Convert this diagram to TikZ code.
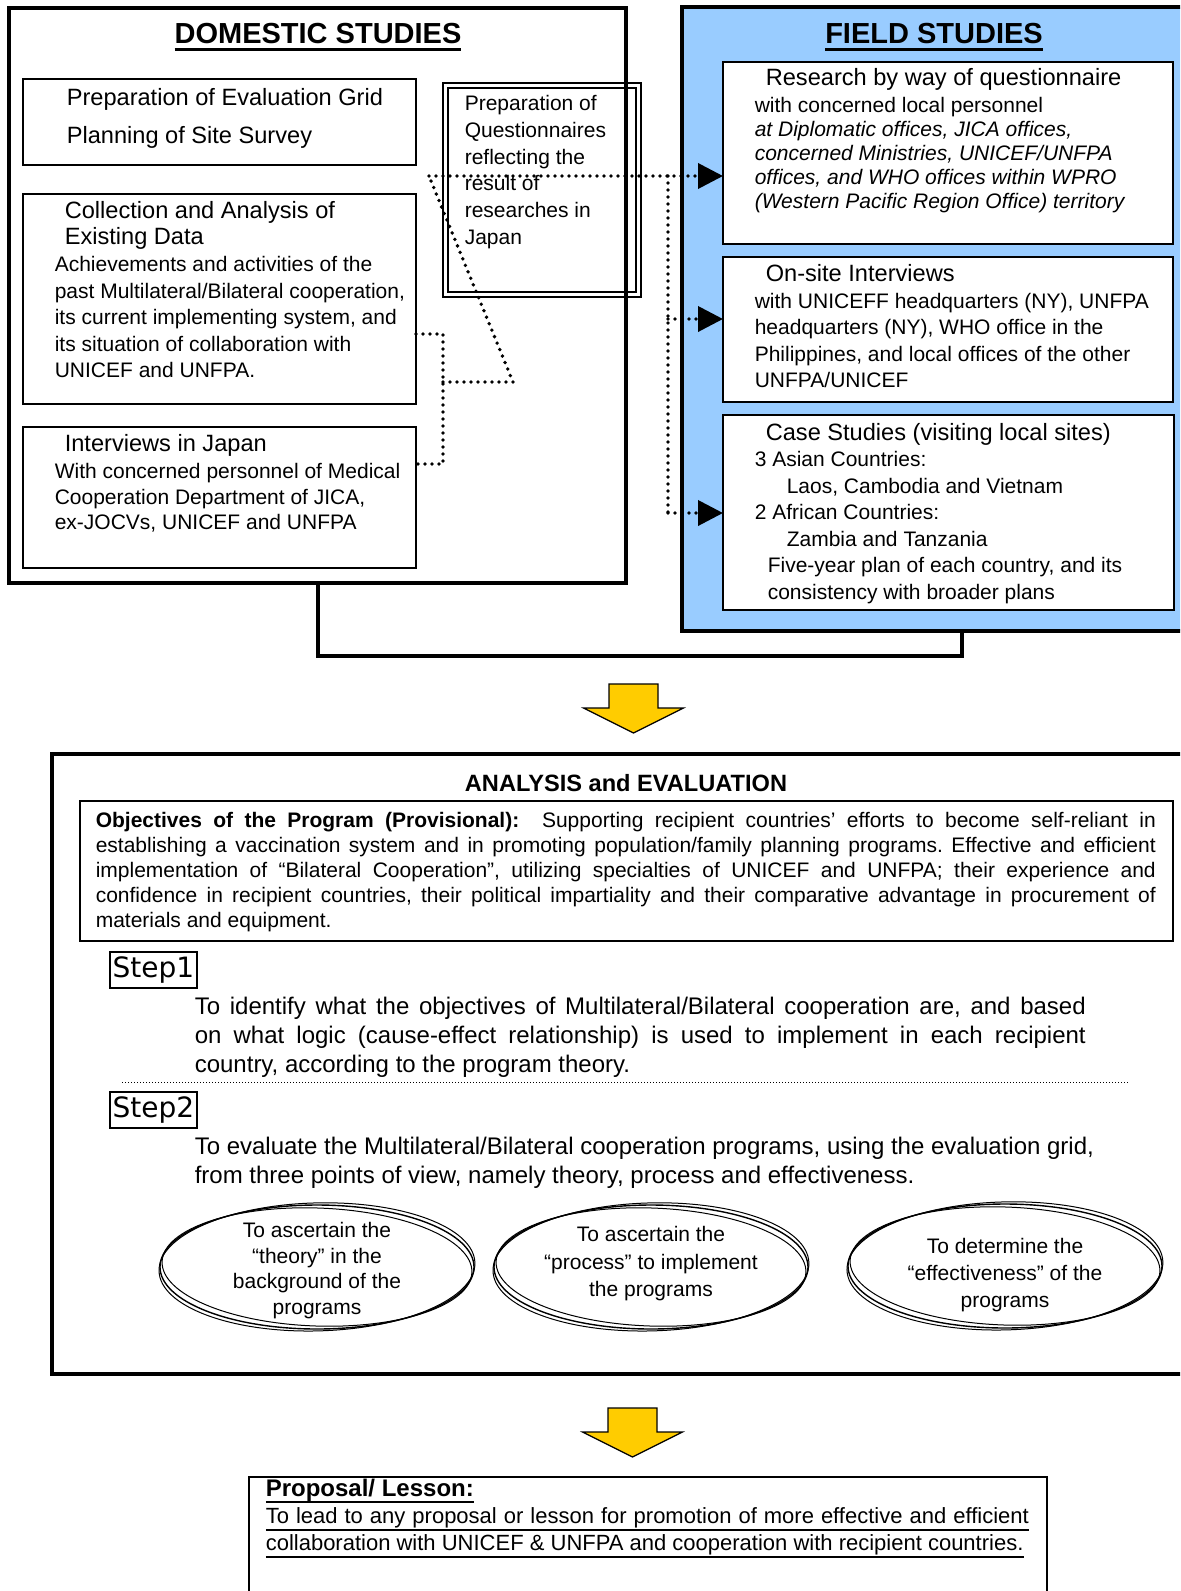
\documentclass[tikz,border=0pt]{standalone}
\usepackage{fontspec}
\setmainfont{Liberation Sans}
\newfontfamily\stepfont{DejaVu Sans}
\usetikzlibrary{arrows.meta,shapes.geometric}
\definecolor{c0}{RGB}{153,204,255}
\definecolor{c1}{RGB}{255,204,0}
\frenchspacing
\newsavebox\ulbox
\NewDocumentCommand\fs{mm}{\fontsize{#1}{#2}\selectfont}
\NewDocumentCommand\uln{mmm}{%
  \sbox\ulbox{#3}\rlap{\rule[-#2]{\wd\ulbox}{#1}}\usebox\ulbox}
\tikzset{%
  outerbox/.style={draw,line width=1.8pt,inner sep=0pt,outer sep=0pt},
  innerbox/.style 2 args={draw,fill=white,line width=0.9pt,inner sep=0pt,outer sep=0pt,
    minimum width=#1,minimum height=#2},
  txt/.style={inner sep=0pt,anchor=base west,align=left},
  headtxt/.style={inner sep=0pt,anchor=base,font={\bfseries\fs{14.5}{17}}},
  dotline/.style={line width=1.9pt,dash pattern=on 0pt off 3.5pt,line cap=round},
  arr/.style={-{Triangle[length=12.5pt,width=12.5pt]}},
  fineline/.style={line width=0.5pt,dash pattern=on 0.5pt off 1pt},
  ovalring/.style={ellipse,draw,line width=0.7pt,inner sep=0pt,
    minimum width=157pt,minimum height=62pt},
  ovaltxt/.style={inner sep=0pt,anchor=base,align=center},
  stepbox/.style={draw,line width=0.9pt,inner sep=0pt,
    minimum width=43.5pt,minimum height=18pt,font={\stepfont\fs{14}{16}}}
}
\NewDocumentCommand\yarrow{m}{%
  \filldraw[fill=c1,draw=black,line width=0.6pt]
  (#1) ++(-24.5,0) -- ++(49,0) -- ++(0,24) -- ++(25.5,0)
  -- ++(-50,25) -- ++(-50,-25) -- ++(25.5,0) -- cycle;
}
\NewDocumentCommand\ellring{m}{%
  \draw[line width=0.5pt,rotate around={-2:(#1)}] (#1) ellipse [x radius=155, y radius=59];
  \draw[line width=0.5pt,rotate around={1.5:(#1)}] (#1) ellipse [x radius=158, y radius=64];
}
\begin{document}
\begin{tikzpicture}[x=0.5pt,y=-0.5pt,thick]
  \clip (0,0) rectangle (1180,1591);
  \fill[white] (0,0) rectangle (1180,1591);
  %% field studies
  \node[outerbox,fill=c0,minimum width=259pt,minimum height=312pt] (f0) at (941,319) {};
  \node[innerbox={225pt}{91pt}] (f1) at (948,153) {};
  \node[innerbox={225pt}{72.5pt}] (f2) at (948,329.5) {};
  \node[innerbox={225.5pt}{97.5pt}] (f3) at (948.5,512.5) {};
  \node[headtxt] (f4) at (934,43) {\uln{1.5pt}{3.75pt}{FIELD STUDIES}};
  \node[txt,font=\fs{11.8}{13}] (f5) at (765,85.5) {Research by way of questionnaire};
  \node[txt,font=\fs{10.5}{12}] (f6) at (754,208.5) {with concerned local personnel\\
    \textit{at Diplomatic offices, JICA offices,}\\
    \textit{concerned Ministries, UNICEF/UNFPA}\\
    \textit{offices, and WHO offices within WPRO}\\
    \textit{(Western Pacific Region Office) territory}};
  \node[txt,font=\fs{11.8}{13}] (f7) at (765,281.5) {On-site Interviews};
  \node[txt,font=\fs{10.5}{13.15}] (f8) at (754,387.4) {with UNICEFF headquarters (NY), UNFPA\\
    headquarters (NY), WHO office in the\\
    Philippines, and local offices of the other\\
    UNFPA/UNICEF};
  \node[txt,font=\fs{11.8}{13}] (f9) at (765,440.5) {Case Studies (visiting local sites)};
  \node[txt,font=\fs{10.5}{13.3}] (f10) at (754,599.5) {3 Asian Countries:\\
    \hspace*{16pt}Laos, Cambodia and Vietnam\\
    2 African Countries:\\
    \hspace*{16pt}Zambia and Tanzania\\
    \hspace*{6.5pt}Five-year plan of each country, and its\\
    \hspace*{6.5pt}consistency with broader plans};
  %% domestic studies
  \node[draw,double,line width=0.8pt,double distance=1.7pt,inner sep=0pt,outer sep=0pt,
    minimum width=96.5pt,minimum height=104.5pt] (d4) at (542,190) {};
  \node[outerbox,minimum width=308.5pt,minimum height=287.5pt] (d0) at (317.5,295.5) {};
  \node[innerbox={196.5pt}{43pt}] (d1) at (219.5,122) {};
  \node[innerbox={196.5pt}{105pt}] (d2) at (219.5,299) {};
  \node[innerbox={196.5pt}{70.5pt}] (d3) at (219.5,497.5) {};
  \node[headtxt] (d5) at (318,43) {\uln{1.5pt}{3.75pt}{DOMESTIC STUDIES}};
  \node[txt,font=\fs{11.8}{19}] (d6) at (66,143.5) {Preparation of Evaluation Grid\\Planning of Site Survey};
  \node[txt,font=\fs{11.8}{13}] (d7) at (64,244.5) {Collection and Analysis of\\Existing Data};
  \node[txt,font=\fs{10.5}{13.25}] (d8) at (54,377.5) {Achievements and activities of the\\
    past Multilateral/Bilateral cooperation,\\
    its current implementing system, and\\
    its situation of collaboration with\\
    UNICEF and UNFPA.};
  \node[txt,font=\fs{11.8}{13}] (d9) at (64,451.5) {Interviews in Japan};
  \node[txt,font=\fs{10.5}{12.75}] (d10) at (54,529.5) {With concerned personnel of Medical\\
    Cooperation Department of JICA,\\
    ex-JOCVs, UNICEF and UNFPA};
  \node[txt,font=\fs{10.5}{13.4}] (d11) at (464,244.5) {Preparation of\\Questionnaires\\reflecting the\\result of\\researches in\\Japan};
  %%%
  \coordinate (q0) at (429,176);
  \coordinate (q1) at (513,382);
  \coordinate (q2) at (443,382);
  \coordinate (q3) at (443,334);
  \coordinate (q4) at (443,464);
  \coordinate (r0) at (668,176);
  \coordinate (r1) at (668,319);
  \coordinate (r2) at (668,513);
  \draw[dotline] (q3 -| d2.east) -- (q3) -- (q4) -- (q4 -| d3.east);
  \draw[dotline] (q2) -- (q1) -- (q0);
  \draw[dotline] (r0) -- (r2);
  \draw[dotline,arr] (q0) -- (q0 -| f1.west);
  \draw[dotline,arr] (r1) -- (r1 -| f2.west);
  \draw[dotline,arr] (r2) -- (r2 -| f3.west);
  %%
  \coordinate (b0) at (318,656);
  \coordinate (b1) at (962,656);
  \draw[line width=1.8pt] (b0 |- d0.south) -- (b0) -- (b1) -- (b1 |- f0.south);
  \coordinate (y0) at (633.5,684);
  \yarrow{y0}
  %% analysis and evaluation
  \node[outerbox,minimum width=574pt,minimum height=310pt] (a0) at (626,1064) {};
  \node[headtxt,font={\bfseries\fs{11.8}{14}}] (a1) at (626,791.5) {ANALYSIS and EVALUATION};
  \node[innerbox={546.5pt}{70pt}] (a2) at (626.5,871) {};
  \node[txt,font=\fs{10.5}{12.5}] (a3) at (95,927.5) {%
    \makebox[530pt][s]{\textbf{Objectives of the Program (Provisional):}\ \ Supporting recipient countries’ efforts to become self-reliant in}\\
    \makebox[530pt][s]{establishing a vaccination system and in promoting population/family planning programs. Effective and efficient}\\
    \makebox[530pt][s]{implementation of “Bilateral Cooperation”, utilizing specialties of UNICEF and UNFPA; their experience and}\\
    \makebox[530pt][s]{confidence in recipient countries, their political impartiality and their comparative advantage in procurement of}\\
    materials and equipment.};
  \node[stepbox] (s1) at (153.5,970) {Step1};
  \node[txt,font=\fs{12}{14.5}] (s2) at (194,1072.6) {%
    \makebox[445.5pt][s]{To identify what the objectives of Multilateral/Bilateral cooperation are, and based}\\
    \makebox[445.5pt][s]{on what logic (cause-effect relationship) is used to implement in each recipient}\\
    country, according to the program theory.};
  \coordinate (s3) at (122,1082);
  \coordinate (s4) at (1129,1082);
  \draw[fineline] (s3) -- (s4);
  \node[stepbox] (s5) at (153.5,1110) {Step2};
  \node[txt,font=\fs{12}{14.5}] (s6) at (194,1183.6) {To evaluate the Multilateral/Bilateral cooperation programs, using the evaluation grid,\\
    from three points of view, namely theory, process and effectiveness.};
  %%
  \node[ovalring] (e0) at (317,1267) {};
  \node[ovalring] (e1) at (651,1267) {};
  \node[ovalring] (e2) at (1005,1266) {};
  \ellring{e0}
  \ellring{e1}
  \ellring{e2}
  \node[ovaltxt,font=\fs{10.5}{12.85}] (t0) at (317,1314.6) {To ascertain the\\“theory” in the\\background of the\\programs};
  \node[ovaltxt,font=\fs{10.5}{13.75}] (t1) at (651,1296.5) {To ascertain the\\“process” to implement\\the programs};
  \node[ovaltxt,font=\fs{10.5}{13.5}] (t2) at (1005,1307.5) {To determine the\\“effectiveness” of the\\programs};
  %% proposal
  \coordinate (y1) at (632.5,1408);
  \yarrow{y1}
  \node[innerbox={399pt}{81.5pt},line width=0.8pt] (l0) at (648,1558.5) {};
  \node[txt,font=\fs{11}{13.5}] (l1) at (265,1550.6) {%
    \textbf{\fs{12}{13.5}\uln{0.9pt}{3.3pt}{Proposal/ Lesson:}}\\
    \uln{0.9pt}{3.6pt}{\makebox[381.5pt][s]{To lead to any proposal or lesson for promotion of more effective and efficient}}\\
    \uln{0.9pt}{3.6pt}{collaboration with UNICEF \& UNFPA and cooperation with recipient countries.}};
\end{tikzpicture}
\end{document}
